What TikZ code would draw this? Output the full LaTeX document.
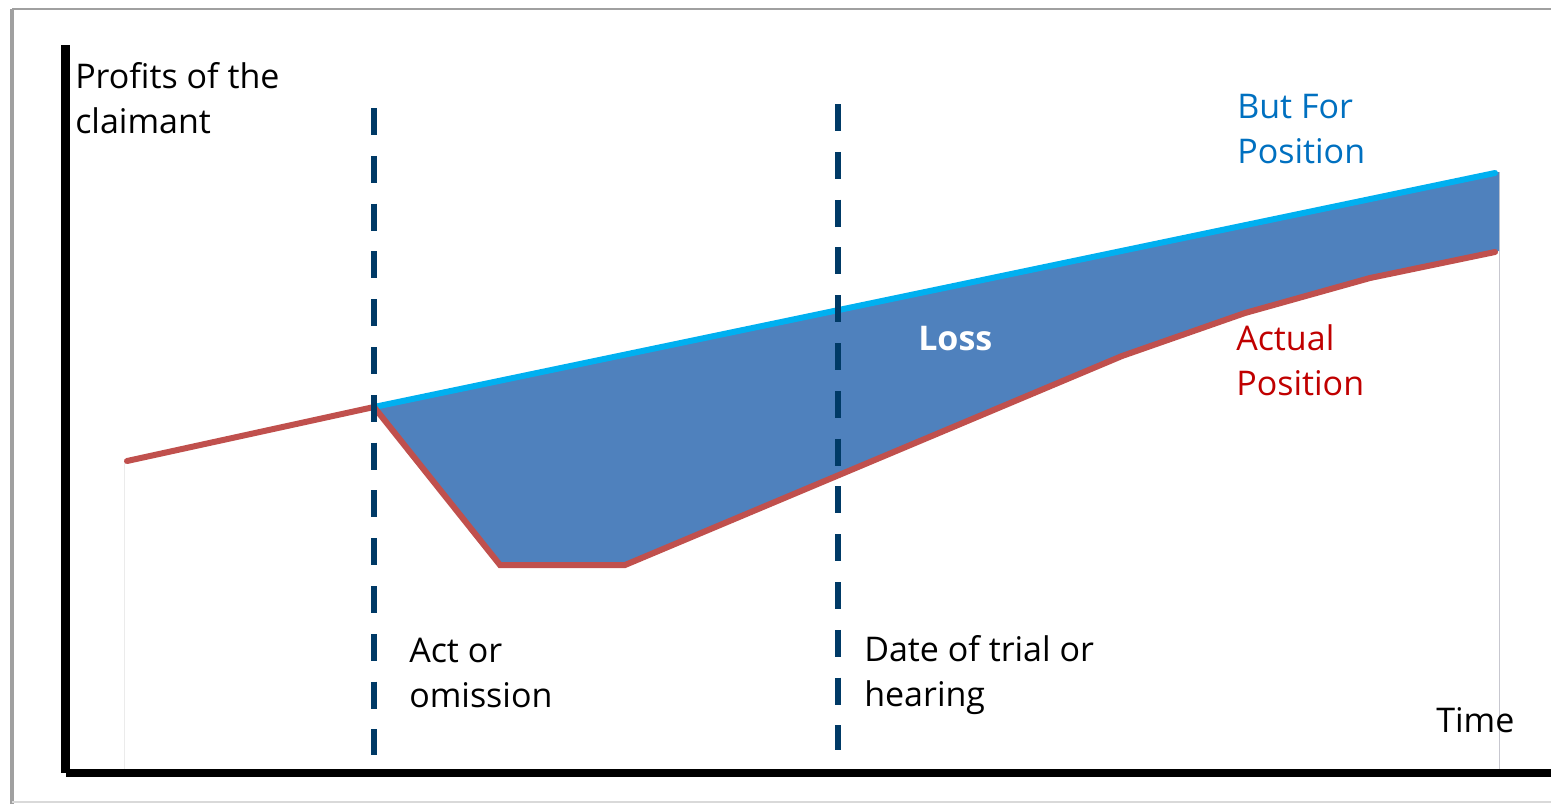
\documentclass[tikz,border=0pt]{standalone}
\usepackage{fontspec}
\setmainfont{Open Sans}
\definecolor{lossfill}{HTML}{4F81BD}
\definecolor{butfor}{HTML}{00B0F0}
\definecolor{actual}{HTML}{C0504D}
\definecolor{navy}{HTML}{003A66}
\definecolor{bftext}{HTML}{0070C0}
\definecolor{actext}{HTML}{C00000}
\definecolor{framegray}{HTML}{A0A0A0}
\begin{document}
\begin{tikzpicture}[x=0.75pt,y=-0.75pt,
  lbl/.style={anchor=base west, inner sep=0pt, font=\fontsize{25.5}{33}\selectfont},
  markline/.style={navy, line width=4.5pt, dash pattern=on 20.25pt off 15.6pt},
  curveline/.style={line width=4.5pt, line cap=round},
  axisline/.style={black, line width=6.5pt},
  gridline/.style={line width=0.75pt}]
\useasboundingbox (0,0) rectangle (1551,804);
% frame
\draw[framegray, line width=1.5pt] (12,9) -- (1560,9);
\draw[framegray, line width=3pt] (12,9) -- (12,804);
\draw[black!15, line width=1.2pt] (12,802) -- (1560,802);
% coordinates
\coordinate (r0) at (127,461);
\coordinate (act) at (374,407);
\coordinate (r2) at (500,565);
\coordinate (r3) at (625,565);
\coordinate (r4) at (1122,356);
\coordinate (r5) at (1245,313);
\coordinate (r6) at (1370,278);
\coordinate (r7) at (1495,252);
\coordinate (b1) at (1495,173);
\coordinate (fTop) at (1499,172);
\coordinate (fBot) at (1499,251);
% thin plot-area lines
\draw[gridline, black!8] (124,461) -- (124,770);
\draw[gridline, black!25!blue!10!gray!40] (1499,172) -- (1499,770);
% loss area
\fill[lossfill] (act) -- (fTop) -- (fBot) -- (r6) -- (r5) -- (r4) -- (r3) -- (r2) -- cycle;
% positions
\draw[curveline, butfor] (act) -- (b1);
\draw[curveline, actual] (r0) -- (act) -- (r2) -- (r3) -- (r4) -- (r5) -- (r6) -- (r7);
% dashed markers
\coordinate (d1t) at (374,108);
\coordinate (d1b) at (374,755);
\coordinate (d2t) at (838,104);
\coordinate (d2b) at (838,750);
\draw[markline] (d1t) -- (d1b);
\draw[markline] (d2t) -- (d2b);
% axes
\coordinate (ytop) at (65.5,45);
\coordinate (orig) at (65.5,773);
\coordinate (xend) at (1560,773);
\draw[axisline] (ytop) -- (orig);
\draw[axisline] (orig) -- (xend);
% labels
\node[lbl] (p1) at (75,88) {Profits of the};
\node[lbl] (p2) at (75,133) {claimant};
\node[lbl, bftext] (bf1) at (1237,118) {But For};
\node[lbl, bftext] (bf2) at (1237,163) {Position};
\node[lbl, actext] (ap1) at (1236,350) {Actual};
\node[lbl, actext] (ap2) at (1236,395) {Position};
\node[lbl] (ao1) at (409,662) {Act or};
\node[lbl] (ao2) at (409,707) {omission};
\node[lbl] (dt1) at (864,661) {Date of trial or};
\node[lbl] (dt2) at (864,706) {hearing};
\node[lbl] (time) at (1436,732) {Time};
\node[lbl, white, font=\fontsize{25.5}{33}\selectfont\bfseries] (loss) at (918,350) {Loss};
\end{tikzpicture}
\end{document}
